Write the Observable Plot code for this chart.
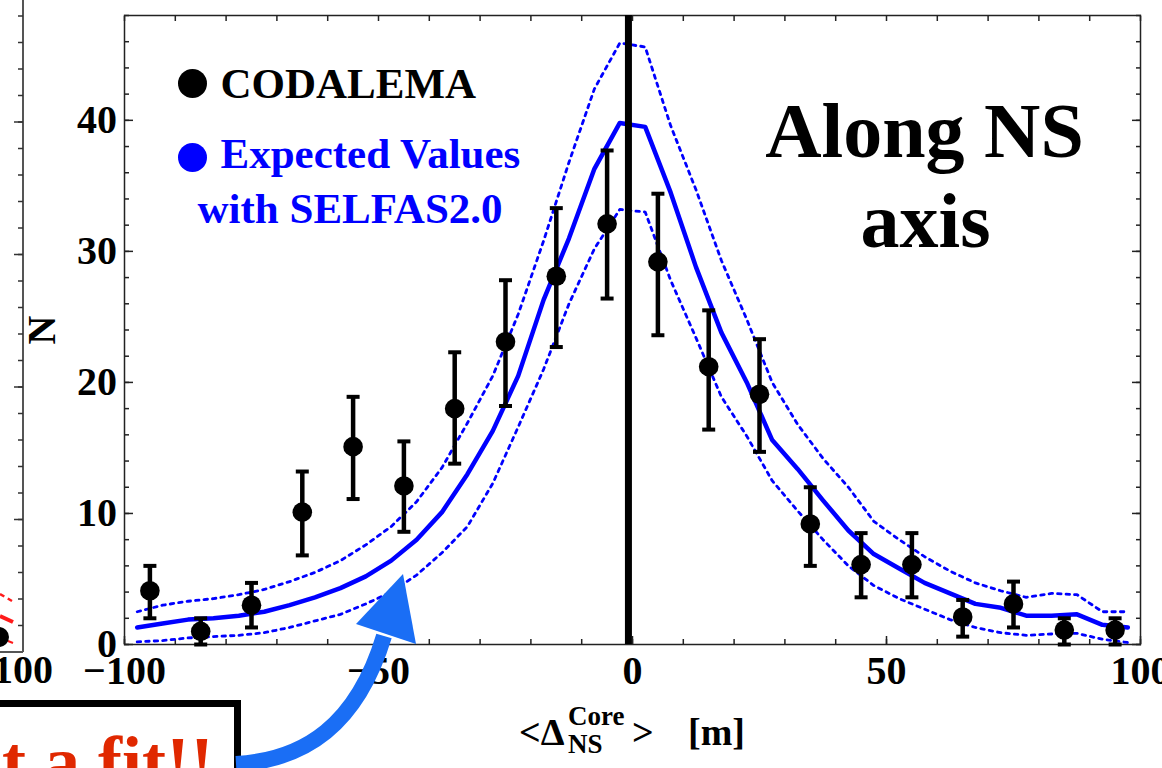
<!DOCTYPE html>
<html>
<head>
<meta charset="utf-8">
<script src="https://cdn.jsdelivr.net/npm/d3@7"></script>
<script src="https://cdn.jsdelivr.net/npm/@observablehq/plot@0.6"></script>
<style>
html, body { margin: 0; padding: 0; background: #fff; overflow: hidden; }
#wrap { position: relative; width: 1162px; height: 768px; overflow: hidden; background: #fff; }
#wrap > svg.deco { position: absolute; left: 0; top: 0; pointer-events: none; }
</style>
</head>
<body>
<div id="wrap"></div>
<script>
// ---- CODALEMA measured counts (bin centres, values, error bar ends) ----
const binCenters = [-95, -85, -75, -65, -55, -45, -35, -25, -15, -5, 5, 15, 25, 35, 45, 55, 65, 75, 85, 95];
const counts     = [4.1, 1.0, 3.0, 10.1, 15.1, 12.1, 18.0, 23.1, 28.1, 32.1, 29.2, 21.2, 19.1, 9.2, 6.1, 6.1, 2.1, 3.1, 1.1, 1.1];
const errLow     = [2.0, 0.0, 1.3, 6.8, 11.1, 8.6, 13.8, 18.2, 22.7, 26.4, 23.6, 16.4, 14.7, 6.0, 3.6, 3.6, 0.6, 1.3, 0.0, 0.0];
const errHigh    = [6.0, 2.0, 4.7, 13.2, 18.9, 15.5, 22.3, 27.8, 33.3, 37.7, 34.4, 25.5, 23.3, 12.0, 8.5, 8.5, 3.4, 4.8, 2.0, 2.0];

// ---- SELFAS2.0 expected values (mean and band) ----
const simX    = [-97.5, -92.5, -87.5, -82.5, -77.5, -72.5, -67.5, -62.5, -57.5, -52.5, -47.5, -42.5, -37.5, -32.5, -27.5, -22.5, -17.5, -12.5, -7.5, -2.5,
                 2.5, 7.5, 12.5, 17.5, 22.5, 27.5, 32.5, 37.5, 42.5, 47.5, 52.5, 57.5, 62.5, 67.5, 72.5, 77.5, 82.5, 87.5, 92.5, 97.5];
const simMean = [1.3, 1.6, 1.9, 2.0, 2.2, 2.5, 3.0, 3.6, 4.3, 5.2, 6.4, 8.0, 10.1, 13.0, 16.3, 20.5, 26.3, 31.0, 36.3, 39.8,
                 39.5, 34.5, 28.8, 23.8, 20.0, 15.6, 13.4, 11.0, 8.7, 6.9, 5.8, 4.7, 3.9, 3.1, 2.8, 2.2, 2.2, 2.3, 1.5, 1.3];
const simHigh = [2.5, 3.0, 3.3, 3.5, 3.8, 4.2, 4.8, 5.5, 6.4, 7.6, 9.0, 10.9, 13.5, 16.9, 20.5, 25.2, 30.8, 36.8, 42.4, 45.9,
                 45.6, 39.6, 34.7, 29.3, 24.8, 20.0, 16.8, 14.2, 12.0, 9.4, 8.0, 6.7, 5.6, 4.7, 4.1, 3.6, 3.9, 3.8, 2.5, 2.5];
const simLow  = [0.2, 0.3, 0.5, 0.6, 0.7, 0.9, 1.3, 1.8, 2.3, 3.1, 4.0, 5.3, 7.0, 9.0, 12.3, 16.6, 21.0, 26.0, 30.2, 33.2,
                 33.0, 27.8, 23.4, 18.9, 15.9, 12.5, 10.2, 8.0, 6.0, 4.5, 3.5, 2.7, 1.9, 1.3, 0.9, 0.7, 0.8, 0.85, 0.4, 0.15];

// ---- axis ticks ----
const xMajorTicks = [-100, -50, 0, 50, 100];
const xMinorTicks = [-100, -90, -80, -70, -60, -50, -40, -30, -20, -10, 0, 10, 20, 30, 40, 50, 60, 70, 80, 90, 100];
const yMajorTicks = [0, 10, 20, 30, 40];
const yMinorTicks = [0, 2, 4, 6, 8, 10, 12, 14, 16, 18, 20, 22, 24, 26, 28, 30, 32, 34, 36, 38, 40, 42, 44, 46, 48];
const coreLine = [-0.8];

// ---- texts ----
const legendData = "CODALEMA";
const legendSim1 = "Expected Values";
const legendSim2 = "with SELFAS2.0";
const panelTitle1 = "Along NS";
const panelTitle2 = "axis";

const SERIF = "'Liberation Serif', 'Times New Roman', serif";
const BLUE = "#0000ff";

const capSymbol = {
  draw(context, size) {
    const w = Math.sqrt(size / Math.PI);
    context.moveTo(-w, 0);
    context.lineTo(w, 0);
  }
};

const chart = Plot.plot({
  width: 1162,
  height: 768,
  marginLeft: 124,
  marginRight: 22,
  marginTop: 15,
  marginBottom: 124,
  x: {domain: [-100, 100]},
  y: {domain: [0, 48]},
  style: {fontFamily: SERIF, fontWeight: "bold", fontSize: "40px", color: "black", background: "white", overflow: "visible"},
  marks: [
    // axes: labels + inward ticks
    Plot.axisX({anchor: "bottom", ticks: xMajorTicks, tickSize: -8, tickPadding: 19, tickFormat: d => d < 0 ? "\u2212" + Math.abs(d) : String(d), label: null, fontSize: 40, fontWeight: "bold", stroke: "#222", strokeWidth: 1.5}),
    Plot.axisX({anchor: "bottom", ticks: xMinorTicks, tickSize: -5, fill: "none", label: null, stroke: "#222", strokeWidth: 1.5}),
    Plot.axisX({anchor: "top", ticks: xMinorTicks, tickSize: -5, fill: "none", label: null, stroke: "#222", strokeWidth: 1.5}),
    Plot.axisY({anchor: "left", ticks: yMajorTicks, tickSize: -9, tickPadding: 16.5, fontSize: 40, fontWeight: "bold", stroke: "#222", strokeWidth: 1.5,
                label: "N", labelAnchor: "center", labelOffset: 98, labelArrow: "none"}),
    Plot.axisY({anchor: "left", ticks: yMinorTicks, tickSize: -5, fill: "none", label: null, stroke: "#222", strokeWidth: 1.5}),
    Plot.axisY({anchor: "right", ticks: yMajorTicks, tickSize: -9, fill: "none", label: null, stroke: "#222", strokeWidth: 1.5}),
    Plot.axisY({anchor: "right", ticks: yMinorTicks, tickSize: -5, fill: "none", label: null, stroke: "#222", strokeWidth: 1.5}),
    Plot.frame({stroke: "#222", strokeWidth: 1.5}),

    // simulation band and mean
    Plot.line(simHigh, {x: simX, y: simHigh, stroke: BLUE, strokeWidth: 2.8, strokeDasharray: "3.5,5"}),
    Plot.line(simLow, {x: simX, y: simLow, stroke: BLUE, strokeWidth: 2.8, strokeDasharray: "3.5,5"}),
    Plot.line(simMean, {x: simX, y: simMean, stroke: BLUE, strokeWidth: 4.5}),

    // core position line
    Plot.ruleX(coreLine, {x: d => d, stroke: "black", strokeWidth: 7}),

    // data with error bars
    Plot.ruleX(counts, {x: binCenters, y1: errLow, y2: errHigh, stroke: "black", strokeWidth: 4.5}),
    Plot.dot(errHigh, {x: binCenters, y: errHigh, symbol: capSymbol, r: 6.5, stroke: "black", strokeWidth: 4, fill: "none"}),
    Plot.dot(errLow, {x: binCenters, y: errLow, symbol: capSymbol, r: 6.5, stroke: "black", strokeWidth: 4, fill: "none"}),
    Plot.dot(counts, {x: binCenters, y: counts, r: 9.8, fill: "black", stroke: "none"}),

    // legend
    Plot.dot([legendData], {frameAnchor: "top-left", dx: 68, dy: 68, r: 14.5, fill: "black"}),
    Plot.text([legendData], {text: d => d, frameAnchor: "top-left", dx: 96, dy: 69, textAnchor: "start", lineAnchor: "middle", fontSize: 43, fontWeight: "bold", fill: "black"}),
    Plot.dot([legendSim1], {frameAnchor: "top-left", dx: 68, dy: 142, r: 14.5, fill: BLUE}),
    Plot.text([legendSim1], {text: d => d, frameAnchor: "top-left", dx: 96, dy: 139, textAnchor: "start", lineAnchor: "middle", fontSize: 43, fontWeight: "bold", fill: BLUE}),
    Plot.text([legendSim2], {text: d => d, frameAnchor: "top-left", dx: 73, dy: 194, textAnchor: "start", lineAnchor: "middle", fontSize: 43, fontWeight: "bold", fill: BLUE}),

    // panel title
    Plot.text([panelTitle1], {text: d => d, frameAnchor: "top-left", dx: 800, dy: 117, textAnchor: "middle", lineAnchor: "middle", fontSize: 78, fontWeight: "bold", fill: "black"}),
    Plot.text([panelTitle2], {text: d => d, frameAnchor: "top-left", dx: 801, dy: 207, textAnchor: "middle", lineAnchor: "middle", fontSize: 78, fontWeight: "bold", fill: "black"})
  ]
});

const wrap = document.getElementById("wrap");
wrap.appendChild(chart);

// ---- slide decorations around the chart (neighbouring panel, note box, arrow) and x-axis title ----
const NS = "http://www.w3.org/2000/svg";
const deco = document.createElementNS(NS, "svg");
deco.setAttribute("class", "deco");
deco.setAttribute("width", 1162);
deco.setAttribute("height", 768);
function el(tag, attrs, text) {
  const e = document.createElementNS(NS, tag);
  for (const k in attrs) e.setAttribute(k, attrs[k]);
  if (text != null) e.textContent = text;
  deco.appendChild(e);
  return e;
}
// neighbouring panel (cut off at left)
el("line", {x1: 23, y1: 0, x2: 23, y2: 652, stroke: "#555", "stroke-width": 2});
el("line", {x1: 0, y1: 652, x2: 23, y2: 652, stroke: "#555", "stroke-width": 2});
for (let y = 16; y < 652; y += 26.5) el("line", {x1: 18, y1: y, x2: 23, y2: y, stroke: "#333", "stroke-width": 1.5});
for (let y = 122; y < 652; y += 132.5) el("line", {x1: 14, y1: y, x2: 23, y2: y, stroke: "#333", "stroke-width": 1.5});
el("line", {x1: 0, y1: 594, x2: 12, y2: 601, stroke: "#ff1a1a", "stroke-width": 2.5, "stroke-dasharray": "5,4"});
el("line", {x1: 0, y1: 616, x2: 13, y2: 622, stroke: "#ff1a1a", "stroke-width": 4});
el("line", {x1: 8, y1: 641, x2: 13, y2: 643, stroke: "#ff1a1a", "stroke-width": 2});
el("circle", {cx: -1, cy: 637, r: 10, fill: "black"});
el("text", {x: 23, y: 683, "text-anchor": "middle", "font-family": SERIF, "font-weight": "bold", "font-size": 40}, "100");

// x axis title  <Δ_NS^Core>  [m]
const tAttrs = {"font-family": SERIF, "font-weight": "bold", fill: "black"};
el("text", {...tAttrs, x: 519, y: 745, "font-size": 38}, "<\u0394");
el("text", {...tAttrs, x: 568, y: 725, "font-size": 27}, "Core");
el("text", {...tAttrs, x: 568, y: 753, "font-size": 27}, "NS");
el("text", {...tAttrs, x: 632, y: 745, "font-size": 38}, ">");
el("text", {...tAttrs, x: 688, y: 745, "font-size": 38}, "[m]");

// note box and arrow
el("rect", {x: -20, y: 703.5, width: 257.5, height: 120, fill: "none", stroke: "black", "stroke-width": 7});
el("text", {x: 214, y: 786, "text-anchor": "end", "font-family": SERIF, "font-weight": "bold", "font-size": 72, fill: "#e02800"}, "Not a fit!!");
el("path", {d: "M236,764 C305,760 357,725 384,636", fill: "none", stroke: "#1a6ef5", "stroke-width": 16});
el("path", {d: "M403,574 L356,624 L416,644 Z", fill: "#1a6ef5"});

wrap.appendChild(deco);
</script>
</body>
</html>
